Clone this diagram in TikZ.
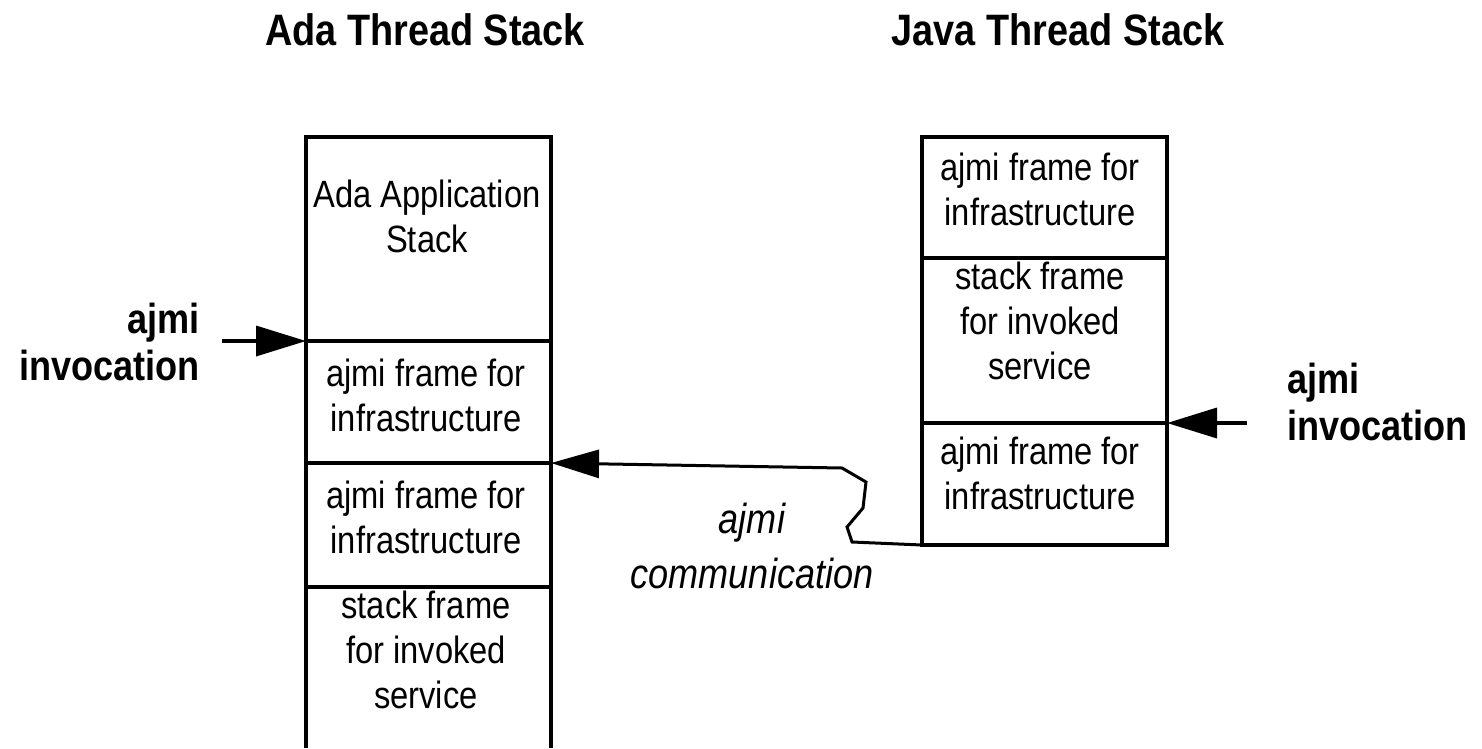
\documentclass[tikz,border=0pt]{standalone}
\usepackage{fontspec}
\setmainfont{Liberation Sans}[FakeStretch=0.86]
\usetikzlibrary{arrows.meta}
\begin{document}
\begin{tikzpicture}[x=1pt,y=-1pt,
  frame/.style={draw, line width=4.5pt, rectangle, inner sep=0pt, outer sep=0pt,
    minimum width=245pt, anchor=north west},
  openframe/.style={rectangle, inner sep=0pt, outer sep=0pt,
    minimum width=245pt, anchor=north west},
  boxtext/.style={align=center, anchor=base, inner sep=0pt,
    font=\fontsize{38}{45}\selectfont},
  titletext/.style={anchor=base, inner sep=0pt,
    font=\fontsize{44}{50}\selectfont\bfseries},
  lbl/.style={inner sep=0pt, font=\fontsize{42}{47}\selectfont\bfseries},
  commlbl/.style={align=center, anchor=base, inner sep=0pt,
    font=\fontsize{42}{55}\selectfont\itshape},
  inv/.style={line width=3.5pt, -{Triangle[length=50pt,width=30pt]}},
  comm/.style={line width=3pt, line join=miter, -{Triangle[length=48pt,width=28pt]}}
]
\useasboundingbox (0,0) rectangle (1482,748);

% titles
\node[titletext] (tada) at (425,45) {Ada Thread Stack};
\node[titletext] (tjava) at (1058,45) {Java Thread Stack};

% Ada stack
\node[frame, minimum height=204pt] (a1) at (306,137) {};
\node[frame, minimum height=122pt] (a2) at (306,341) {};
\node[frame, minimum height=124pt] (a3) at (306,463) {};
\node[openframe, minimum height=161pt] (a4) at (306,587) {};
\draw[line width=4.5pt] (a4.north west) -- (a4.south west);
\draw[line width=4.5pt] (a4.north east) -- (a4.south east);

% (anchor=base is the baseline of the last line)
\node[boxtext] (ta1) at (427,252) {Ada Application\\Stack};
\node[boxtext] (ta2) at (426,431) {ajmi frame for\\infrastructure};
\node[boxtext] (ta3) at (426,553) {ajmi frame for\\infrastructure};
\node[boxtext] (ta4) at (426,708) {stack frame\\for invoked\\service};

% Java stack
\node[frame, minimum height=121pt] (j1) at (922,137) {};
\node[frame, minimum height=165pt] (j2) at (922,258) {};
\node[frame, minimum height=122pt] (j3) at (922,423) {};

\node[boxtext] (tj1) at (1040,225) {ajmi frame for\\infrastructure};
\node[boxtext] (tj2) at (1040,379) {stack frame\\for invoked\\service};
\node[boxtext] (tj3) at (1040,509) {ajmi frame for\\infrastructure};

% invocation arrows
\coordinate (lstart) at (222,341);
\coordinate (rstart) at (1247,423);
\draw[inv] (lstart) -- (a1.south west);
\draw[inv] (rstart) -- (j2.south east);
\node[lbl, align=right, anchor=base east] (llbl) at (200,380) {ajmi\\invocation};
\node[lbl, align=left, anchor=base west] (rlbl) at (1287,440) {ajmi\\invocation};

% communication
\draw[comm] (j3.south west) -- (852,542) -- (847,527) -- (863,508) -- (866,482)
  -- (842,468) -- (a2.south east);
\node[commlbl] (clbl) at (752,588) {ajmi\\communication};
\end{tikzpicture}
\end{document}
